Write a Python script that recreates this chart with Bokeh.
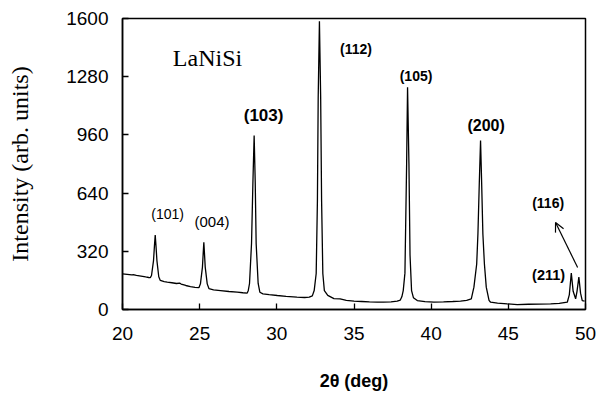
from bokeh.plotting import figure
from bokeh.models import Range1d, FixedTicker, Label, Arrow, OpenHead
from bokeh.embed import file_html
from bokeh.resources import INLINE

# ---- data ----
two_theta = [20.0, 20.3, 20.6, 20.75, 20.9, 21.2, 21.5, 21.7, 21.8, 21.88, 22.01, 22.07, 22.12, 22.17,
             22.23, 22.35, 22.45, 22.7, 22.9, 23.2, 23.5, 23.7, 23.8, 24.1, 24.4, 24.7, 24.95, 25.05,
             25.18, 25.23, 25.27, 25.31, 25.36, 25.49, 25.6, 25.9, 26.35, 26.9, 27.43, 27.8, 28.08,
             28.15, 28.23, 28.36, 28.45, 28.53, 28.6, 28.66, 28.79, 28.9, 29.1, 29.5, 30.03, 30.6,
             31.3, 31.8, 32.1, 32.3, 32.42, 32.55, 32.63, 32.68, 32.76, 32.84, 32.9, 32.98, 33.08,
             33.3, 33.7, 34.1, 34.5, 35.0, 35.5, 36.0, 36.5, 36.9, 37.4, 37.8, 38.0, 38.1, 38.19,
             38.3, 38.41, 38.47, 38.56, 38.63, 38.73, 38.85, 39.1, 39.6, 40.18, 40.8, 41.4, 41.9,
             42.3, 42.6, 42.77, 42.95, 43.03, 43.12, 43.2, 43.27, 43.35, 43.45, 43.57, 43.75, 43.85,
             44.3, 44.93, 45.58, 46.3, 47.0, 47.74, 48.3, 48.82, 48.95, 49.08, 49.2, 49.36, 49.45,
             49.57, 49.68, 49.79, 49.94]
intensity = [196, 193, 190, 191, 188, 184, 179, 176, 175, 187, 269, 350, 410, 350,
             269, 180, 160, 153, 150, 147, 143, 145, 140, 132, 126, 122, 120, 141,
             233, 310, 370, 310, 233, 141, 115, 108, 104, 99, 95, 92, 90,
             105, 143, 363, 700, 957, 700, 363, 143, 95, 86, 82, 77, 72,
             68, 66, 68, 75, 104, 198, 600, 1167, 1585, 1167, 600, 198, 104,
             78, 60, 58, 50, 46, 44, 42, 41, 40, 42, 46, 52, 70, 104,
             200, 802, 1222, 802, 300, 104, 65, 49, 43, 40, 42, 44, 46,
             50, 58, 123, 250, 416, 700, 929, 700, 416, 250, 123, 50, 40,
             35, 31, 27, 29, 30, 31, 34, 40, 80, 200, 100, 59, 100,
             178, 90, 49, 46]

hkl_labels = ["(101)", "(004)", "(103)", "(112)", "(105)", "(200)", "(116)", "(211)"]
hkl_x = [22.92, 25.80, 29.14, 35.13, 39.02, 43.56, 47.58, 47.61]
hkl_y = [527, 484, 1066, 1434, 1286, 1011, 588, 187]
hkl_size = ["14px", "15px", "17px", "14px", "14px", "16px", "14px", "14.5px"]
hkl_bold = [False, False, True, True, True, True, True, True]

x_ticks = [20, 25, 30, 35, 40, 45, 50]
y_ticks = [0, 320, 640, 960, 1280, 1600]

p = figure(width=597, height=398, output_backend="svg", toolbar_location=None,
           x_range=Range1d(20, 50), y_range=Range1d(0, 1600),
           min_border_left=122, min_border_right=12, min_border_top=18, min_border_bottom=89)
p.background_fill_color = "white"
p.border_fill_color = "white"
p.outline_line_color = "black"
p.outline_line_width = 1.5
p.xgrid.visible = False
p.ygrid.visible = False

for ax in (p.xaxis[0], p.yaxis[0]):
    ax.axis_line_width = 1.5
    ax.major_tick_in = 6
    ax.major_tick_out = 0
    ax.major_tick_line_width = 1.3
    ax.minor_tick_in = 0
    ax.minor_tick_out = 0
    ax.major_label_text_font = "Liberation Sans"
    ax.major_label_text_font_size = "19px"
    ax.major_label_text_color = "black"
    ax.axis_label_text_color = "black"
    ax.axis_label_text_font_style = "normal"

p.xaxis.ticker = FixedTicker(ticks=x_ticks)
p.yaxis.ticker = FixedTicker(ticks=y_ticks)
p.xaxis.axis_label = "2θ (deg)"
p.xaxis.axis_label_text_font = "Liberation Sans"
p.xaxis.axis_label_text_font_size = "18px"
p.xaxis.axis_label_text_font_style = "bold"
p.xaxis.major_label_standoff = 17
p.xaxis.axis_label_standoff = 28

p.yaxis.axis_label = "Intensity (arb. units)"
p.yaxis.axis_label_text_font = "Liberation Serif"
p.yaxis.axis_label_text_font_size = "24px"
p.yaxis.major_label_standoff = 14
p.yaxis.axis_label_standoff = 30

p.line(two_theta, intensity, line_color="black", line_width=1.3)

for t, x, y, s, b in zip(hkl_labels, hkl_x, hkl_y, hkl_size, hkl_bold):
    p.add_layout(Label(x=x, y=y, text=t, text_align="center", text_baseline="middle",
                       text_font="Liberation Sans", text_font_size=s,
                       text_font_style="bold" if b else "normal", text_color="black"))

p.add_layout(Label(x=25.51, y=1385, text="LaNiSi", text_align="center", text_baseline="middle",
                   text_font="Liberation Serif", text_font_size="24px", text_color="black"))

p.add_layout(Arrow(end=OpenHead(size=9, line_width=1.2, line_color="black"),
                   x_start=49.49, y_start=231, x_end=48.06, y_end=478,
                   line_color="black", line_width=1.2))

open("out.html", "w").write(file_html(p, INLINE))
